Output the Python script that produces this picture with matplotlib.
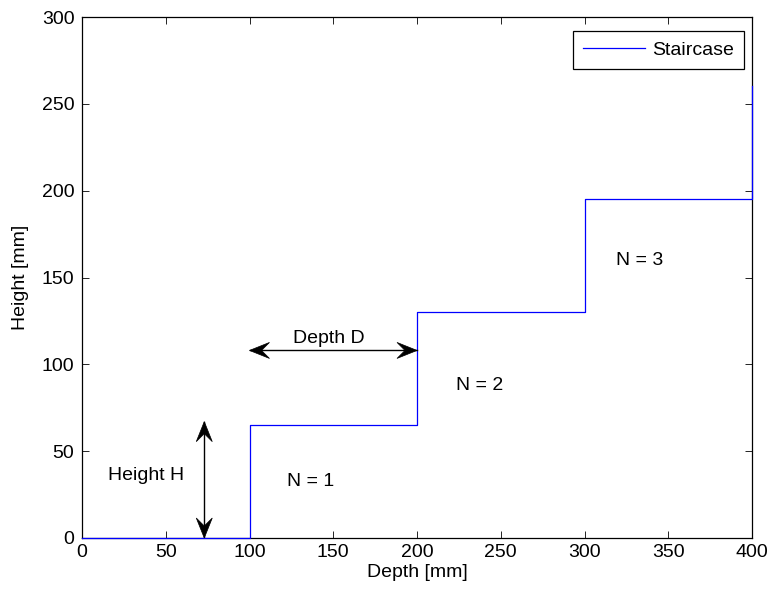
import matplotlib
matplotlib.use("Agg")
import matplotlib.pyplot as plt
from matplotlib.patches import Polygon
from matplotlib.transforms import Affine2D, ScaledTranslation

plt.rcParams['font.family'] = ['Liberation Sans', 'DejaVu Sans']
plt.rcParams['font.size'] = 14

# Staircase vertices
depth = [0, 100, 100, 200, 200, 300, 300, 400, 400]
height = [0, 0, 65, 65, 130, 130, 195, 195, 260]

xticks = [0, 50, 100, 150, 200, 250, 300, 350, 400]
yticks = [0, 50, 100, 150, 200, 250, 300]

# Annotations (baseline positions)
labels = ["Height H", "N = 1", "Depth D", "N = 2", "N = 3"]
label_x = [15.5, 122.4, 126, 223, 318.8]
label_y = [33.4, 29.9, 112.3, 85.2, 157.2]
h_arrow_x = 73
h_arrow_y = (0, 67)
d_arrow_x = (100, 200)
d_arrow_y = 108

fig = plt.figure(figsize=(7.71, 5.92), dpi=100)
ax = fig.add_axes([82/771, 1-538/592, (752-82)/771, (538-17)/592])

ax.plot(depth, height, color='#0000FF', lw=0.9, label='Staircase', zorder=3, clip_on=False)
ax.set_xlim(0, 400)
ax.set_ylim(0, 300)
ax.set_xticks(xticks)
ax.set_yticks(yticks)
ax.tick_params(direction='in', top=True, right=True, length=5, width=0.6, labelsize=14)
ax.tick_params(axis='y', pad=5.5)
ax.tick_params(axis='x', pad=4.5)
for s in ax.spines.values():
    s.set_linewidth(0.9)
ax.set_xlabel('Depth [mm]', labelpad=2)
ax.set_ylabel('Height [mm]', labelpad=9)

for t, x, y in zip(labels, label_x, label_y):
    ax.text(x, y, t, fontsize=14, va='baseline', ha='left')

# arrow head shape in pixels (tip at origin, pointing +x)
L, W, N = 20.0, 8.0, 12.0
head = [(0, 0), (-L, W), (-N, 0), (-L, -W)]


def draw_head(x, y, angle):
    tr = Affine2D().rotate_deg(angle) + ScaledTranslation(x, y, ax.transData)
    ax.add_patch(Polygon(head, closed=True, facecolor='black', edgecolor='black',
                         lw=0.5, transform=tr, zorder=4))


ax.plot([h_arrow_x, h_arrow_x], list(h_arrow_y), color='black', lw=1.0, zorder=4)
draw_head(h_arrow_x, h_arrow_y[1], 90)
draw_head(h_arrow_x, h_arrow_y[0], -90)
ax.plot(list(d_arrow_x), [d_arrow_y, d_arrow_y], color='black', lw=1.0, zorder=4)
draw_head(d_arrow_x[1], d_arrow_y, 0)
draw_head(d_arrow_x[0], d_arrow_y, 180)

leg = ax.legend(loc='upper right', bbox_to_anchor=(0.988, 0.973), borderaxespad=0,
                fancybox=False, edgecolor='black', framealpha=1,
                handlelength=3.2, handletextpad=0.35, borderpad=0.52, fontsize=14)
leg.get_frame().set_linewidth(0.9)

fig.savefig('out.png', dpi=100)
